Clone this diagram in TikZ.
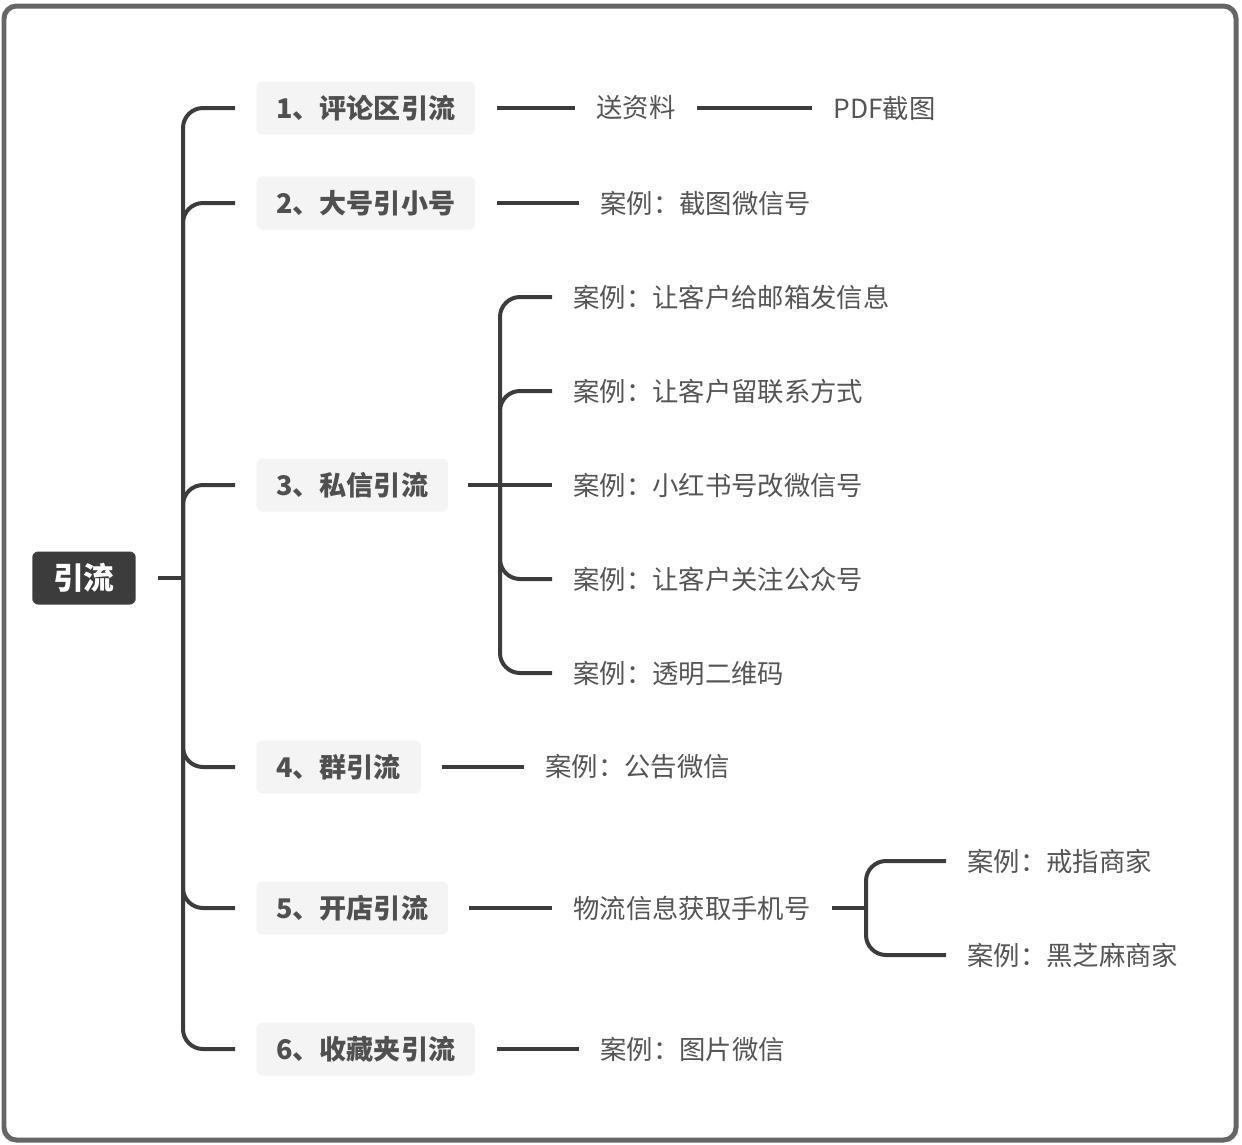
\documentclass[tikz,border=0pt]{standalone}
\usepackage{fontspec}
\setmainfont{Noto Sans CJK SC}
\usetikzlibrary{positioning}
\definecolor{linegray}{RGB}{60,60,60}
\definecolor{framegray}{RGB}{102,102,102}
\definecolor{boxgray}{RGB}{244,244,244}
\definecolor{topictext}{RGB}{80,80,80}
\definecolor{leaftext}{RGB}{85,85,85}
\tikzset{
  frame/.style={draw=framegray, line width=0.1cm, rounded corners=0.25cm},
  rootbox/.style={fill=linegray, rounded corners=0.12cm, text=white, inner xsep=0.42cm, minimum height=1.06cm, font=\fontsize{17.5}{20}\selectfont\bfseries},
  topic/.style={fill=boxgray, rounded corners=0.12cm, text=topictext, anchor=west, inner xsep=0.4cm, minimum height=1.06cm, font=\fontsize{15.4}{18}\selectfont\bfseries},
  leaf/.style={text=leaftext, inner sep=0pt, anchor=west, font=\fontsize{15}{18}\selectfont},
  conn/.style={draw=linegray, line width=0.08cm, rounded corners=0.4cm},
  gapin/.style={shorten <=0.42cm},
  gapout/.style={shorten >=0.42cm}
}
\begin{document}
\begin{tikzpicture}[x=0.02cm, y=-0.02cm]
  \useasboundingbox (0,0) rectangle (1242,1144);
  \draw[frame] (4,6) rectangle (1236,1140);

  % centre
  \node[rootbox] (root) at (84,578) {引流};
  \coordinate (hub) at (183,578);
  \draw[conn, shorten <=0.44cm] (root.east) -- (hub);

  % main branches
  \node[topic] (t1) at (256,108) {1、评论区引流};
  \node[topic] (t2) at (256,203) {2、大号引小号};
  \node[topic] (t3) at (256,485) {3、私信引流};
  \node[topic] (t4) at (256,767) {4、群引流};
  \node[topic] (t5) at (256,908) {5、开店引流};
  \node[topic] (t6) at (256,1049) {6、收藏夹引流};
  \foreach \t in {t1,t2,t3,t4,t5,t6}
    \draw[conn, gapout] (hub) |- (\t.west);

  % 1
  \node[leaf] (l11) at (596,108) {送资料};
  \node[leaf] (l12) at (833,108) {PDF截图};
  \draw[conn, gapin, gapout] (t1.east) -- (l11.west);
  \draw[conn, gapin, gapout] (l11.east) -- (l12.west);

  % 2
  \node[leaf] (l21) at (600,203) {案例：截图微信号};
  \draw[conn, gapin, gapout] (t2.east) -- (l21.west);

  % 3
  \coordinate (hub3) at (500,485);
  \node[leaf] (c31) at (573,297) {案例：让客户给邮箱发信息};
  \node[leaf] (c32) at (573,391) {案例：让客户留联系方式};
  \node[leaf] (c33) at (573,485) {案例：小红书号改微信号};
  \node[leaf] (c34) at (573,579) {案例：让客户关注公众号};
  \node[leaf] (c35) at (573,673) {案例：透明二维码};
  \draw[conn, shorten <=0.4cm] (t3.east) -- (hub3);
  \draw[conn, gapout] (hub3) -- (c33.west);
  \foreach \c in {c31,c32,c34,c35}
    \draw[conn, gapout] (hub3) |- (\c.west);

  % 4
  \node[leaf] (l41) at (545,767) {案例：公告微信};
  \draw[conn, gapin, gapout] (t4.east) -- (l41.west);

  % 5
  \node[leaf] (l51) at (573,908) {物流信息获取手机号};
  \coordinate (hub5) at (866,908);
  \node[leaf] (c51) at (967,861) {案例：戒指商家};
  \node[leaf] (c52) at (967,955) {案例：黑芝麻商家};
  \draw[conn, gapin, gapout] (t5.east) -- (l51.west);
  \draw[conn, gapin] (l51.east) -- (hub5);
  \foreach \c in {c51,c52}
    \draw[conn, gapout] (hub5) |- (\c.west);

  % 6
  \node[leaf] (l61) at (600,1049) {案例：图片微信};
  \draw[conn, gapin, gapout] (t6.east) -- (l61.west);
\end{tikzpicture}
\end{document}
